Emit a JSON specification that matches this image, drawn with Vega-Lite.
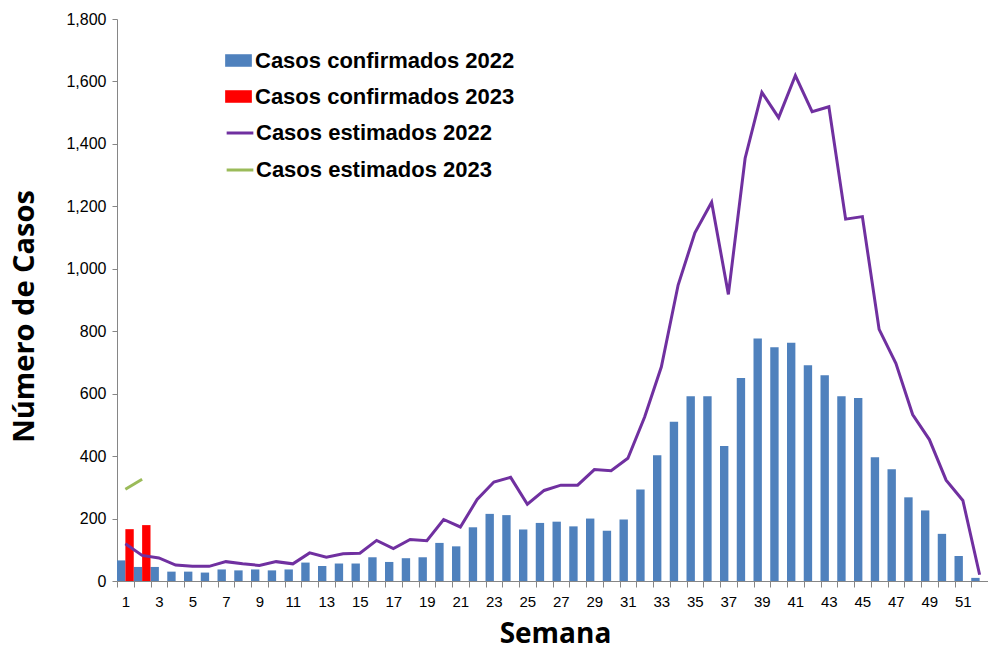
{
  "$schema": "https://vega.github.io/schema/vega-lite/v6.json",
  "autosize": {"type": "none"},
  "padding": {"left": 117, "top": 19, "right": 0, "bottom": 69},
  "width": 871,
  "height": 562,
  "background": "white",
  "config": {
    "view": {"stroke": null},
    "font": "Liberation Sans",
    "axis": {"grid": false, "domainColor": "#868686", "tickColor": "#868686", "labelColor": "#000000", "labelFont": "Liberation Sans", "labelFontSize": 15, "titleFont": "Open Sans", "titleFontWeight": "bold", "titleColor": "#000000"},
    "legend": {"labelFont": "Liberation Sans", "labelFontSize": 22, "labelFontWeight": "bold", "labelColor": "#000000", "labelLimit": 500, "padding": 0}
  },
  "datasets": {
    "bars": [
      {"semana": 1, "serie": "Casos confirmados 2022", "casos": 66},
      {"semana": 2, "serie": "Casos confirmados 2022", "casos": 45},
      {"semana": 3, "serie": "Casos confirmados 2022", "casos": 45},
      {"semana": 4, "serie": "Casos confirmados 2022", "casos": 30},
      {"semana": 5, "serie": "Casos confirmados 2022", "casos": 30},
      {"semana": 6, "serie": "Casos confirmados 2022", "casos": 27},
      {"semana": 7, "serie": "Casos confirmados 2022", "casos": 37},
      {"semana": 8, "serie": "Casos confirmados 2022", "casos": 34},
      {"semana": 9, "serie": "Casos confirmados 2022", "casos": 37},
      {"semana": 10, "serie": "Casos confirmados 2022", "casos": 34},
      {"semana": 11, "serie": "Casos confirmados 2022", "casos": 37},
      {"semana": 12, "serie": "Casos confirmados 2022", "casos": 59},
      {"semana": 13, "serie": "Casos confirmados 2022", "casos": 48},
      {"semana": 14, "serie": "Casos confirmados 2022", "casos": 56},
      {"semana": 15, "serie": "Casos confirmados 2022", "casos": 56},
      {"semana": 16, "serie": "Casos confirmados 2022", "casos": 76},
      {"semana": 17, "serie": "Casos confirmados 2022", "casos": 61},
      {"semana": 18, "serie": "Casos confirmados 2022", "casos": 73},
      {"semana": 19, "serie": "Casos confirmados 2022", "casos": 76},
      {"semana": 20, "serie": "Casos confirmados 2022", "casos": 122},
      {"semana": 21, "serie": "Casos confirmados 2022", "casos": 111},
      {"semana": 22, "serie": "Casos confirmados 2022", "casos": 172},
      {"semana": 23, "serie": "Casos confirmados 2022", "casos": 215},
      {"semana": 24, "serie": "Casos confirmados 2022", "casos": 211},
      {"semana": 25, "serie": "Casos confirmados 2022", "casos": 165},
      {"semana": 26, "serie": "Casos confirmados 2022", "casos": 186},
      {"semana": 27, "serie": "Casos confirmados 2022", "casos": 190},
      {"semana": 28, "serie": "Casos confirmados 2022", "casos": 175},
      {"semana": 29, "serie": "Casos confirmados 2022", "casos": 200},
      {"semana": 30, "serie": "Casos confirmados 2022", "casos": 161},
      {"semana": 31, "serie": "Casos confirmados 2022", "casos": 197},
      {"semana": 32, "serie": "Casos confirmados 2022", "casos": 293},
      {"semana": 33, "serie": "Casos confirmados 2022", "casos": 403},
      {"semana": 34, "serie": "Casos confirmados 2022", "casos": 510},
      {"semana": 35, "serie": "Casos confirmados 2022", "casos": 592},
      {"semana": 36, "serie": "Casos confirmados 2022", "casos": 592},
      {"semana": 37, "serie": "Casos confirmados 2022", "casos": 432},
      {"semana": 38, "serie": "Casos confirmados 2022", "casos": 650},
      {"semana": 39, "serie": "Casos confirmados 2022", "casos": 777},
      {"semana": 40, "serie": "Casos confirmados 2022", "casos": 749},
      {"semana": 41, "serie": "Casos confirmados 2022", "casos": 763},
      {"semana": 42, "serie": "Casos confirmados 2022", "casos": 691},
      {"semana": 43, "serie": "Casos confirmados 2022", "casos": 659},
      {"semana": 44, "serie": "Casos confirmados 2022", "casos": 592},
      {"semana": 45, "serie": "Casos confirmados 2022", "casos": 586},
      {"semana": 46, "serie": "Casos confirmados 2022", "casos": 396},
      {"semana": 47, "serie": "Casos confirmados 2022", "casos": 358},
      {"semana": 48, "serie": "Casos confirmados 2022", "casos": 268},
      {"semana": 49, "serie": "Casos confirmados 2022", "casos": 226},
      {"semana": 50, "serie": "Casos confirmados 2022", "casos": 151},
      {"semana": 51, "serie": "Casos confirmados 2022", "casos": 80},
      {"semana": 52, "serie": "Casos confirmados 2022", "casos": 10},
      {"semana": 1, "serie": "Casos confirmados 2023", "casos": 166},
      {"semana": 2, "serie": "Casos confirmados 2023", "casos": 179}
    ],
    "lines": [
      {"semana": 1, "serie": "Casos estimados 2022", "casos": 119},
      {"semana": 2, "serie": "Casos estimados 2022", "casos": 82},
      {"semana": 3, "serie": "Casos estimados 2022", "casos": 74},
      {"semana": 4, "serie": "Casos estimados 2022", "casos": 51},
      {"semana": 5, "serie": "Casos estimados 2022", "casos": 47},
      {"semana": 6, "serie": "Casos estimados 2022", "casos": 47},
      {"semana": 7, "serie": "Casos estimados 2022", "casos": 62},
      {"semana": 8, "serie": "Casos estimados 2022", "casos": 55},
      {"semana": 9, "serie": "Casos estimados 2022", "casos": 50},
      {"semana": 10, "serie": "Casos estimados 2022", "casos": 62},
      {"semana": 11, "serie": "Casos estimados 2022", "casos": 55},
      {"semana": 12, "serie": "Casos estimados 2022", "casos": 90},
      {"semana": 13, "serie": "Casos estimados 2022", "casos": 76},
      {"semana": 14, "serie": "Casos estimados 2022", "casos": 87},
      {"semana": 15, "serie": "Casos estimados 2022", "casos": 89},
      {"semana": 16, "serie": "Casos estimados 2022", "casos": 130},
      {"semana": 17, "serie": "Casos estimados 2022", "casos": 104},
      {"semana": 18, "serie": "Casos estimados 2022", "casos": 133},
      {"semana": 19, "serie": "Casos estimados 2022", "casos": 129},
      {"semana": 20, "serie": "Casos estimados 2022", "casos": 197},
      {"semana": 21, "serie": "Casos estimados 2022", "casos": 173},
      {"semana": 22, "serie": "Casos estimados 2022", "casos": 261},
      {"semana": 23, "serie": "Casos estimados 2022", "casos": 317},
      {"semana": 24, "serie": "Casos estimados 2022", "casos": 332},
      {"semana": 25, "serie": "Casos estimados 2022", "casos": 246},
      {"semana": 26, "serie": "Casos estimados 2022", "casos": 290},
      {"semana": 27, "serie": "Casos estimados 2022", "casos": 307},
      {"semana": 28, "serie": "Casos estimados 2022", "casos": 307},
      {"semana": 29, "serie": "Casos estimados 2022", "casos": 357},
      {"semana": 30, "serie": "Casos estimados 2022", "casos": 353},
      {"semana": 31, "serie": "Casos estimados 2022", "casos": 393},
      {"semana": 32, "serie": "Casos estimados 2022", "casos": 525},
      {"semana": 33, "serie": "Casos estimados 2022", "casos": 686},
      {"semana": 34, "serie": "Casos estimados 2022", "casos": 948},
      {"semana": 35, "serie": "Casos estimados 2022", "casos": 1115},
      {"semana": 36, "serie": "Casos estimados 2022", "casos": 1213},
      {"semana": 37, "serie": "Casos estimados 2022", "casos": 918},
      {"semana": 38, "serie": "Casos estimados 2022", "casos": 1354},
      {"semana": 39, "serie": "Casos estimados 2022", "casos": 1565},
      {"semana": 40, "serie": "Casos estimados 2022", "casos": 1484},
      {"semana": 41, "serie": "Casos estimados 2022", "casos": 1619},
      {"semana": 42, "serie": "Casos estimados 2022", "casos": 1503},
      {"semana": 43, "serie": "Casos estimados 2022", "casos": 1519},
      {"semana": 44, "serie": "Casos estimados 2022", "casos": 1159},
      {"semana": 45, "serie": "Casos estimados 2022", "casos": 1167},
      {"semana": 46, "serie": "Casos estimados 2022", "casos": 806},
      {"semana": 47, "serie": "Casos estimados 2022", "casos": 697},
      {"semana": 48, "serie": "Casos estimados 2022", "casos": 533},
      {"semana": 49, "serie": "Casos estimados 2022", "casos": 453},
      {"semana": 50, "serie": "Casos estimados 2022", "casos": 323},
      {"semana": 51, "serie": "Casos estimados 2022", "casos": 258},
      {"semana": 52, "serie": "Casos estimados 2022", "casos": 20},
      {"semana": 1, "serie": "Casos estimados 2023", "casos": 294},
      {"semana": 2, "serie": "Casos estimados 2023", "casos": 326}
    ]
  },
  "encoding": {
    "x": {
      "field": "semana", "type": "ordinal",
      "scale": {"domain": [1,2,3,4,5,6,7,8,9,10,11,12,13,14,15,16,17,18,19,20,21,22,23,24,25,26,27,28,29,30,31,32,33,34,35,36,37,38,39,40,41,42,43,44,45,46,47,48,49,50,51,52], "paddingInner": 0, "paddingOuter": 0},
      "axis": {
        "title": "Semana", "titleFontSize": 28, "titleX": 438, "titleY": 61, "titleBaseline": "alphabetic", "titleAnchor": null, "titleAlign": "center",
        "labelAngle": 0, "tickBand": "extent", "tickSize": 6, "labelPadding": 7,
        "labelExpr": "datum.value % 2 == 1 ? datum.label : ''"
      }
    },
    "y": {
      "field": "casos", "type": "quantitative",
      "scale": {"domain": [0, 1800], "nice": false},
      "axis": {
        "title": "Número de Casos", "titleFontSize": 29, "titleX": -84, "titleY": 297, "titleBaseline": "alphabetic", "titleAngle": -90, "titleAlign": "center",
        "values": [0,200,400,600,800,1000,1200,1400,1600,1800], "format": ",d", "tickSize": 5, "labelPadding": 6, "labelFontSize": 16
      }
    }
  },
  "layer": [
    {
      "data": {"name": "bars"},
      "mark": {"type": "bar", "strokeWidth": 0},
      "encoding": {
        "xOffset": {"field": "serie", "type": "nominal", "scale": {"domain": ["Casos confirmados 2022", "Casos confirmados 2023"], "paddingInner": 0, "paddingOuter": 0}},
        "fill": {
          "field": "serie", "type": "nominal",
          "scale": {"domain": ["Casos confirmados 2022", "Casos confirmados 2023"], "range": ["#4F81BD", "#FF0000"]},
          "legend": {"title": null, "orient": "none", "legendX": 108, "legendY": 28, "symbolType": "M-1,-0.47H1V0.47H-1Z", "symbolSize": 713, "symbolStrokeWidth": 0, "rowPadding": 11, "labelOffset": 3}
        }
      }
    },
    {
      "data": {"name": "lines"},
      "mark": {"type": "line", "strokeWidth": 3},
      "encoding": {
        "stroke": {
          "field": "serie", "type": "nominal",
          "scale": {"domain": ["Casos estimados 2022", "Casos estimados 2023"], "range": ["#7030A0", "#9BBB59"]},
          "legend": {"title": null, "orient": "none", "legendX": 108, "legendY": 99, "symbolType": "stroke", "symbolSize": 713, "symbolStrokeWidth": 3, "rowPadding": 11, "labelOffset": 1}
        }
      }
    }
  ]
}
